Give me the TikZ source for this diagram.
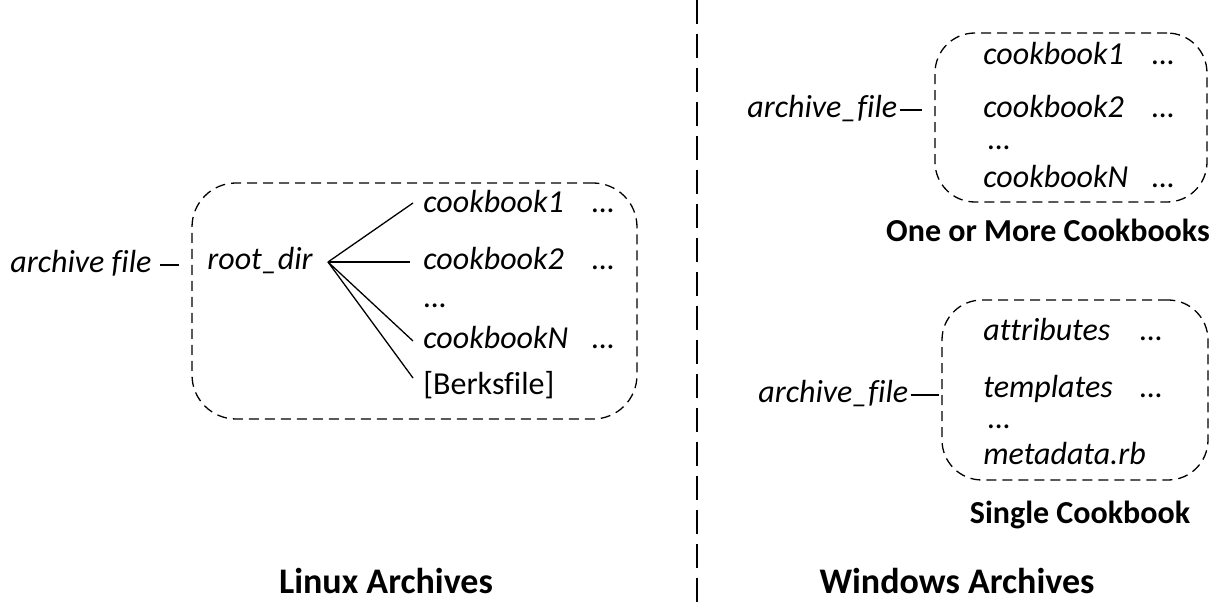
\documentclass[tikz,border=0pt]{standalone}
\usepackage{fontspec}
\setmainfont{Carlito}[Ligatures=CommonOff]
\usetikzlibrary{calc}
\begin{document}
\begin{tikzpicture}[x=0.5pt,y=-0.5pt,
  item/.style={anchor=west,inner sep=0pt,font=\fontsize{16}{19}\selectfont\itshape,text height=11.2pt,text depth=3.2pt},
  plain/.style={item,font=\fontsize{16}{19}\selectfont},
  head/.style={inner sep=0pt,font=\fontsize{18}{21}\selectfont\bfseries},
  subhead/.style={inner sep=0pt,font=\fontsize{16}{19}\selectfont\bfseries},
  grp/.style={draw,line width=0.65pt,dash pattern=on 5pt off 3pt,inner sep=0pt},
  link/.style={line width=0.65pt},
  divider/.style={line width=0.65pt,dash pattern=on 12pt off 5pt}
]
\useasboundingbox (0,0) rectangle (1212,604);

% divider
\coordinate (dtop) at (697,0);
\coordinate (dbot) at (697,604);
\draw[divider] (dtop) -- (dbot);

% ---------- Linux ----------
\node[grp,rounded corners=22pt,minimum width=222.5pt,minimum height=118pt] (lbox) at (414.5,301) {};
\node[item] (laf) at (10,265) {archive file};
\draw[link,shorten <=4pt,shorten >=6pt] (laf.east) -- (laf.east -| lbox.west);
\node[item] (root) at (207,262) {root\_dir};
\coordinate (fan) at (328,262);
\node[item] (c1) at (423,205) {cookbook1};
\node[item] (c1d) at (592,205) {…};
\node[item] (c2) at (423,262) {cookbook2};
\node[item] (c2d) at (592,262) {…};
\node[item] (cm) at (424,300) {…};
\node[item] (cn) at (423,341) {cookbookN};
\node[item] (cnd) at (592,341) {…};
\node[plain] (bk) at (423,387) {[Berksfile]};
\draw[link] (fan) -- ($(c1.west)+(-10,-2)$);
\draw[link] (fan) -- ($(c2.west)+(-13,0)$);
\draw[link] (fan) -- ($(cn.west)+(-10,0)$);
\draw[link] (fan) -- ($(bk.west)+(-10,-9)$);
\node[head] (linux) at (386,581) {Linux Archives};

% ---------- Windows: one or more ----------
\node[grp,rounded corners=20pt,minimum width=136pt,minimum height=84.5pt] (wbox1) at (1071,117.5) {};
\node[item] (waf1) at (747,110) {archive\_file};
\draw[link,shorten <=1pt,shorten >=6pt] (waf1.east) -- (waf1.east -| wbox1.west);
\node[item] (w1) at (983,57) {cookbook1};
\node[item] (w1d) at (1152,57) {…};
\node[item] (w2) at (983,110) {cookbook2};
\node[item] (w2d) at (1152,110) {…};
\node[item] (wm) at (988,142) {…};
\node[item] (wn) at (983,180) {cookbookN};
\node[item] (wnd) at (1152,180) {…};
\node[subhead] (omc) at (1048,230) {One or More Cookbooks};

% ---------- Windows: single ----------
\node[grp,rounded corners=20pt,minimum width=133pt,minimum height=90pt] (wbox2) at (1075,390) {};
\node[item] (waf2) at (758,395) {archive\_file};
\draw[link,shorten <=1pt,shorten >=1pt] (waf2.east) -- (waf2.east -| wbox2.west);
\node[item] (s1) at (983,333) {attributes};
\node[item] (s1d) at (1140,333) {…};
\node[item] (s2) at (983,390) {templates};
\node[item] (s2d) at (1140,390) {…};
\node[item] (sm) at (988,421) {…};
\node[item] (s3) at (983,457) {metadata.rb};
\node[subhead] (sc) at (1080,515) {Single Cookbook};
\node[head] (win) at (957,581) {Windows Archives};
\end{tikzpicture}
\end{document}
